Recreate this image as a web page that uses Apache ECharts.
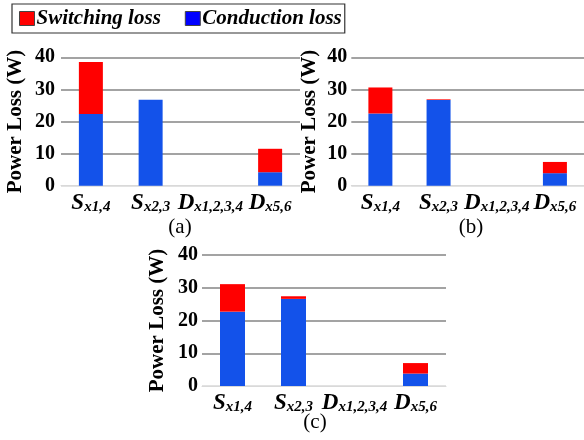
<!DOCTYPE html>
<html>
<head>
<meta charset="utf-8">
<script src="https://cdn.jsdelivr.net/npm/echarts@6/dist/echarts.min.js"></script>
<style>html,body{margin:0;padding:0;background:#fff}#c{width:584px;height:440px}</style>
</head>
<body>
<div id="c"></div>
<script>
const categories = ['S|x1,4', 'S|x2,3', 'D|x1,2,3,4', 'D|x5,6'];
const yTicks = [0, 10, 20, 30, 40];
const conductionA = [22.3, 26.8, 0, 4.2];
const switchingA = [16.2, 0, 0, 7.3];
const conductionB = [22.5, 26.7, 0, 3.9];
const switchingB = [8.1, 0.2, 0, 3.5];
const conductionC = [22.7, 26.6, 0, 3.8];
const switchingC = [8.4, 0.8, 0, 3.2];
const panelCaptions = ['(a)', '(b)', '(c)'];

const serif = 'Liberation Serif';
const chart = echarts.init(document.getElementById('c'));

const grids = [
  {left: 61, top: 57.3, width: 239, height: 128.4},
  {left: 351.3, top: 57.3, width: 240, height: 128.4},
  {left: 202, top: 255, width: 244, height: 131}
];
const nameGaps = [35, 31, 34];
const labelMargins = [6, 4, 4];

function xAxis(i) {
  return {
    type: 'category', gridIndex: i, data: categories,
    axisLine: {lineStyle: {color: '#d9d9d9', width: 1}},
    axisTick: {show: false},
    axisLabel: {
      margin: 5, interval: 0,
      formatter: v => { const p = v.split('|'); return '{m|' + p[0] + '}{s|' + p[1] + '}'; },
      rich: {
        m: {fontFamily: serif, fontSize: 23, fontWeight: 'bold', fontStyle: 'italic', color: '#000', lineHeight: 24},
        s: {fontFamily: serif, fontSize: 15, fontWeight: 'bold', fontStyle: 'italic', color: '#000', lineHeight: 15, verticalAlign: 'bottom'}
      }
    }
  };
}
function yAxis(i) {
  return {
    type: 'value', gridIndex: i, min: yTicks[0], max: yTicks[yTicks.length - 1], interval: 10,
    name: 'Power Loss (W)', nameLocation: 'middle', nameGap: nameGaps[i], nameRotate: 90,
    nameTextStyle: {fontFamily: serif, fontSize: 21, fontWeight: 'bold', color: '#000'},
    axisLine: {show: false}, axisTick: {show: false},
    axisLabel: {fontFamily: serif, fontSize: 20, fontWeight: 'bold', color: '#000', margin: labelMargins[i]},
    splitLine: {lineStyle: {color: ['#d9d9d9', '#858585', '#858585', '#858585', '#858585'], width: 1.5}}
  };
}
const cond = [conductionA, conductionB, conductionC];
const sw = [switchingA, switchingB, switchingC];
const series = [];
for (let i = 0; i < 3; i++) {
  series.push({name: 'Conduction loss', type: 'bar', stack: 's' + i, xAxisIndex: i, yAxisIndex: i,
    data: cond[i], barWidth: i === 2 ? 25 : 24, itemStyle: {color: '#1352ea'}});
  series.push({name: 'Switching loss', type: 'bar', stack: 's' + i, xAxisIndex: i, yAxisIndex: i,
    data: sw[i], barWidth: i === 2 ? 25 : 24, itemStyle: {color: '#ff0000'}});
}
const capPos = [[180, 227], [471, 227], [315, 422]];
chart.setOption({
  animation: false,
  backgroundColor: '#fff',
  legend: {
    left: 12, top: 4, orient: 'horizontal',
    padding: [4, 3, 4, 7], itemGap: 24, itemWidth: 15, itemHeight: 14,
    borderColor: '#333', borderWidth: 1.2,
    icon: 'rect',
    textStyle: {fontFamily: serif, fontSize: 21, fontWeight: 'bold', fontStyle: 'italic', color: '#000', padding: [0, 0, 0, -3]},
    data: [
      {name: 'Switching loss', itemStyle: {color: '#ff0000', borderColor: '#444', borderWidth: 1}},
      {name: 'Conduction loss', itemStyle: {color: '#0000ff', borderColor: '#444', borderWidth: 1}}
    ]
  },
  grid: grids,
  xAxis: [0, 1, 2].map(xAxis),
  yAxis: [0, 1, 2].map(yAxis),
  series: series,
  graphic: panelCaptions.map((t, i) => ({
    type: 'text', x: capPos[i][0], y: capPos[i][1],
    style: {text: t, fontFamily: serif, fontSize: 21, fill: '#000', align: 'center', verticalAlign: 'middle'}
  }))
});
</script>
</body>
</html>
